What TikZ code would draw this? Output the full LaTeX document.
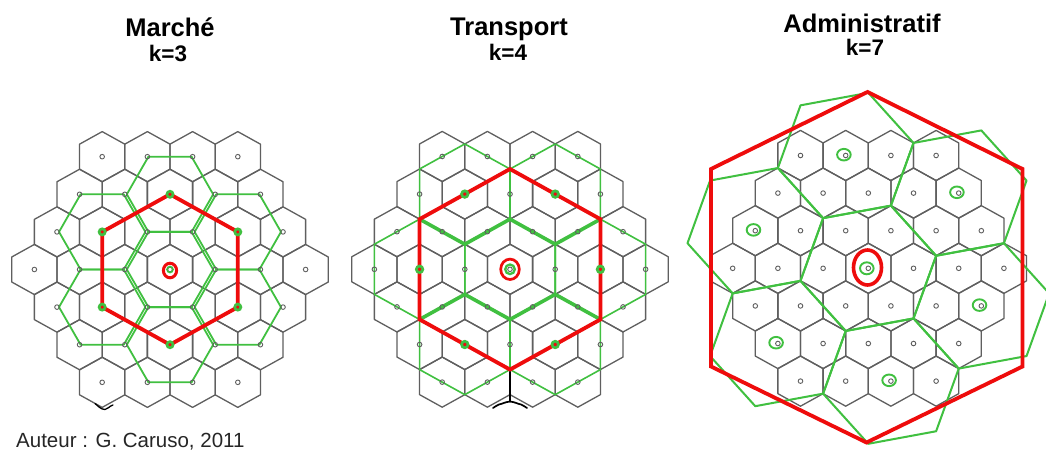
\documentclass[tikz,border=0pt]{standalone}
\usepackage{fontspec}
\setmainfont{Liberation Sans}
\definecolor{hexgreen}{RGB}{64,192,64}
\definecolor{hexred}{RGB}{238,12,12}
\definecolor{gridgray}{RGB}{95,95,95}
\tikzset{
  gridline/.style={draw=gridgray, line width=1.3pt, line join=round},
  greenline/.style={draw=hexgreen, line width=1.8pt, line join=round},
  redline/.style={draw=hexred, line width=3.8pt, line join=miter},
  celldot/.style={draw=gridgray, line width=0.9pt},
  bigdot/.style={draw=hexgreen, line width=2.6pt},
  greenring/.style={draw=hexgreen, line width=1.9pt},
  redring/.style={draw=hexred, line width=3pt},
  titletext/.style={font=\fontsize{25.5}{30}\selectfont\bfseries, anchor=base, inner sep=0pt},
  subtext/.style={font=\fontsize{22.5}{26}\selectfont\bfseries, anchor=base, inner sep=0pt},
  authortext/.style={font=\fontsize{20.5}{24}\selectfont, text=black!85, anchor=base west, inner sep=0pt},
  artifact/.style={draw=black, line width=1.7pt, line cap=round, line join=round},
}
\newcommand\hexcellsgrid{%
  \foreach \i in {-3,...,3}{\foreach \j in {-3,...,3}{%
    \pgfmathtruncatemacro\kk{\i+\j}%
    \ifnum\kk<-3\relax\else\ifnum\kk>3\relax\else
      \draw[gridline] ({1.7320508*(\i+0.5*\j)},{1.5*\j}) +(0,1) -- +(0.8660254,0.5) -- +(0.8660254,-0.5) -- +(0,-1) -- +(-0.8660254,-0.5) -- +(-0.8660254,0.5) -- cycle;
    \fi\fi}}}
\newcommand\hexcelldots{%
  \foreach \i in {-3,...,3}{\foreach \j in {-3,...,3}{%
    \pgfmathtruncatemacro\kk{\i+\j}%
    \ifnum\kk<-3\relax\else\ifnum\kk>3\relax\else
      \draw[celldot] ({1.7320508*(\i+0.5*\j)},{1.5*\j}) circle[radius=2.3pt];
    \fi\fi}}}
\begin{document}
\begin{tikzpicture}[x=1pt,y=-1pt]
\fill[white] (0,0) rectangle (1046,452);
\useasboundingbox (0,0) rectangle (1046,452);
\clip (0,0) rectangle (1046,452);

% ---------- Panel 1 : Marche k=3 ----------
\begin{scope}[shift={(170pt,-269.5pt)}, x=26.1pt, y=25.07pt]
  \hexcellsgrid
  \foreach \a/\b in {0/0, 1/1, -1/2, -2/1, -1/-1, 1/-2, 2/-1}{
    \begin{scope}[shift={({1.7320508*(\a+0.5*\b)},{1.5*\b})}, xscale=0.955]
      \draw[greenline] (1.7320508,0) -- (0.8660254,1.5) -- (-0.8660254,1.5) -- (-1.7320508,0) -- (-0.8660254,-1.5) -- (0.8660254,-1.5) -- cycle;
    \end{scope}}
  \draw[redline] (2.5980762,1.5) -- (0,3) -- (-2.5980762,1.5) -- (-2.5980762,-1.5) -- (0,-3) -- (2.5980762,-1.5) -- cycle;
  \hexcelldots
  \foreach \a/\b in {1/1, -1/2, -2/1, -1/-1, 1/-2, 2/-1}{
    \draw[bigdot] ({1.7320508*(\a+0.5*\b)},{1.5*\b}) circle[radius=3.1pt];}
  \draw[redring] (0,-0.04) ellipse[x radius=6.6pt, y radius=7.3pt];
  \draw[greenring, line width=1.6pt] (0,0) circle[radius=3pt];
\end{scope}
\draw[artifact, line width=1.3pt] (95,403.5) .. controls (98,406) and (101,409.5) .. (105,409.5) .. controls (108,409.5) and (109,406) .. (113,405);

% ---------- Panel 2 : Transport k=4 ----------
\begin{scope}[shift={(510pt,-269.3pt)}, x=26.1pt, y=25.07pt]
  \hexcellsgrid
  \foreach \a/\b in {0/0, 2/0, 0/2, -2/2, -2/0, 0/-2, 2/-2}{
    \begin{scope}[shift={({1.7320508*(\a+0.5*\b)},{1.5*\b})}]
      \draw[greenline, line width=1.6pt] (0,2) -- (1.7320508,1) -- (1.7320508,-1) -- (0,-2) -- (-1.7320508,-1) -- (-1.7320508,1) -- cycle;
    \end{scope}}
  \draw[greenline, line width=3.6pt] (-3.4641016,2) -- (-1.7320508,1) -- (0,2) -- (1.7320508,1) -- (3.4641016,2);
  \draw[greenline, line width=3.6pt] (-3.4641016,-2) -- (-1.7320508,-1) -- (0,-2) -- (1.7320508,-1) -- (3.4641016,-2);
  \draw[redline] (0,4) -- (3.4641016,2) -- (3.4641016,-2) -- (0,-4) -- (-3.4641016,-2) -- (-3.4641016,2) -- cycle;
  \hexcelldots
  \foreach \a/\b in {2/0, 0/2, -2/2, -2/0, 0/-2, 2/-2}{
    \draw[bigdot] ({1.7320508*(\a+0.5*\b)},{1.5*\b}) circle[radius=3.3pt];}
  \draw[redring, line width=2.7pt] (0,0) ellipse[x radius=9.3pt, y radius=10.2pt];
  \draw[greenring, line width=2.3pt] (0,0) circle[radius=4.8pt];
\end{scope}
\draw[artifact] (510,372) -- (510,401.5);
\draw[artifact] (510,401.5) .. controls (505,402) and (502,404) .. (499,404.5) .. controls (497,405) and (495,407) .. (493,408);
\draw[artifact] (510,401.5) .. controls (515,402) and (518,404) .. (521,404.5) .. controls (523,405) and (525,407) .. (527,408);

% ---------- Panel 3 : Administratif k=7 ----------
\begin{scope}[shift={(868.3pt,-268.3pt)}, x=26.1pt, y=25.07pt]
  \hexcellsgrid
  \foreach \a/\b in {0/0, 1/2, -2/3, -3/1, -1/-2, 2/-3, 3/-1}{
    \begin{scope}[shift={({1.7320508*(\a+0.5*\b)},{1.5*\b})}]
      \draw[greenline, line width=2pt] (2.5980762,0.5) -- (0.8660254,2.5) -- (-1.7320508,2) -- (-2.5980762,-0.5) -- (-0.8660254,-2.5) -- (1.7320508,-2) -- cycle;
    \end{scope}}
  \hexcelldots
  \foreach \a/\b in {1/2, -2/3, -3/1, -1/-2, 2/-3, 3/-1}{
    \begin{scope}[shift={({1.7320508*(\a+0.5*\b)},{1.5*\b})}]
      \draw[greenring] (-1.8pt,0.8pt) ellipse[x radius=6.8pt, y radius=5.8pt];
    \end{scope}}
  \draw[greenring] (-1.5pt,0) ellipse[x radius=6.8pt, y radius=6pt];
\end{scope}
\draw[redline] (867.5,92) -- (1022.5,169) -- (1022.5,366.5) -- (866.5,442.5) -- (711,366.5) -- (711,169) -- cycle;
\draw[redring, line width=3.6pt] (867.5,267.5) ellipse[x radius=14pt, y radius=17.5pt];

% ---------- Texts ----------
\node[titletext] (t1) at (170,36.5) {Marché};
\node[subtext] (s1) at (168,61.5) {k=3};
\node[titletext] (t2) at (509,36) {Transport};
\node[subtext] (s2) at (508,60) {k=4};
\node[titletext] (t3) at (862,32.5) {Administratif};
\node[subtext] (s3) at (865,55.5) {k=7};
\node[authortext] (auth) at (16,447.5) {Auteur : G. Caruso, 2011};
\end{tikzpicture}
\end{document}
